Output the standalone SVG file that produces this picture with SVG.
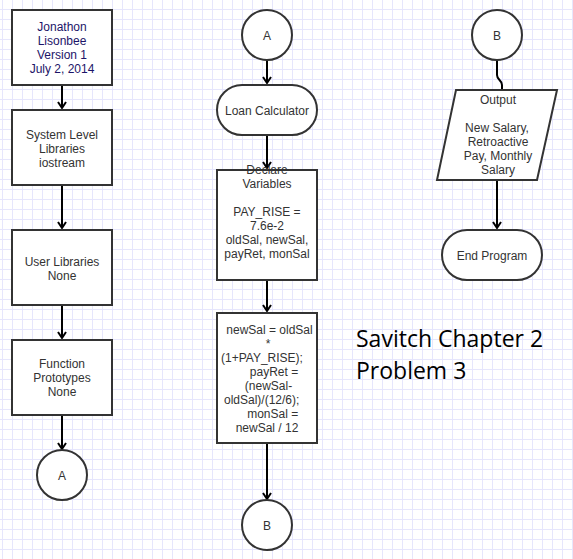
<svg xmlns="http://www.w3.org/2000/svg" width="573" height="559" viewBox="0 0 573 559">
<defs>
<pattern id="grid" width="10" height="10" patternUnits="userSpaceOnUse" x="2" y="9">
<path d="M0,0.5 H10 M0.5,0 V10" fill="none" stroke="#e6e6fc" stroke-width="1"/>
</pattern>
<marker id="arr" markerUnits="userSpaceOnUse" markerWidth="14" markerHeight="14" viewBox="-8 -7 14 14" refX="0" refY="0" orient="auto">
<path d="M-6,-4 L0,0 L-6,4" fill="none" stroke="#000" stroke-width="2"/>
</marker>
</defs>
<style>
.box{fill:#fff;stroke:#333;stroke-width:2}
.t{font-family:"Liberation Sans",Arial,sans-serif;font-size:12px;fill:#333;text-anchor:middle}
.t1{fill:#1c1468}
.conn path{fill:none;stroke:#000;stroke-width:2;marker-end:url(#arr)}
.title{font-family:"Open Sans","Noto Sans",sans-serif;font-size:23px;fill:#000}
</style>
<rect width="573" height="559" fill="#fff"/>
<rect width="573" height="559" fill="url(#grid)"/>

<g class="conn" id="connectors">
<path d="M62,85 V108"/>
<path d="M62,185 V228"/>
<path d="M62,305 V338"/>
<path d="M62,415 V449"/>
<path d="M267,60 V83"/>
<path d="M267,135 V168"/>
<path d="M267,280 V311"/>
<path d="M267,443 V499"/>
<path d="M497,60 V75 C497,80 502,80 502,85 V96"/>
<path d="M497,180 V228"/>
</g>

<g id="author">
<rect class="box" x="12" y="10" width="100" height="75"/>
<text class="t t1" x="62" y="31">Jonathon</text>
<text class="t t1" x="62" y="45">Lisonbee</text>
<text class="t t1" x="62" y="59">Version 1</text>
<text class="t t1" x="62" y="73">July 2, 2014</text>
</g>
<g id="syslibs">
<rect class="box" x="12" y="110" width="100" height="75"/>
<text class="t" x="62" y="138.5">System Level</text>
<text class="t" x="62" y="152.5">Libraries</text>
<text class="t" x="62" y="166.5">iostream</text>
</g>
<g id="userlibs">
<rect class="box" x="12" y="230" width="100" height="75"/>
<text class="t" x="62" y="265.5">User Libraries</text>
<text class="t" x="62" y="279.5">None</text>
</g>
<g id="protos">
<rect class="box" x="12" y="340" width="100" height="75"/>
<text class="t" x="62" y="368">Function</text>
<text class="t" x="62" y="382">Prototypes</text>
<text class="t" x="62" y="396">None</text>
</g>
<g id="connA1">
<circle class="box" cx="62" cy="475" r="25"/>
<text class="t" x="62" y="479.5">A</text>
</g>

<g id="connA2">
<circle class="box" cx="267" cy="35" r="25"/>
<text class="t" x="267" y="39.5">A</text>
</g>
<g id="loancalc">
<rect class="box" x="217" y="85" width="100" height="50" rx="25" ry="25"/>
<text class="t" x="267" y="114.5">Loan Calculator</text>
</g>
<g id="declare">
<rect class="box" x="217" y="170" width="100" height="110"/>
<text class="t" x="267" y="173.5">Declare</text>
<text class="t" x="267" y="187.5">Variables</text>
<text class="t" x="267" y="215.5">PAY_RISE =</text>
<text class="t" x="267" y="229.5">7.6e-2</text>
<text class="t" x="267" y="243.5">oldSal, newSal,</text>
<text class="t" x="267" y="257.5">payRet, monSal</text>
</g>
<g id="compute">
<rect class="box" x="217" y="313" width="100" height="130"/>
<text class="t" x="269.5" y="334">newSal = oldSal</text>
<text class="t" x="268" y="348">*</text>
<text class="t" x="262" y="362">(1+PAY_RISE);</text>
<text class="t" x="274" y="376">payRet =</text>
<text class="t" x="268.5" y="390">(newSal-</text>
<text class="t" x="261.7" y="404">oldSal)/(12/6);</text>
<text class="t" x="272.7" y="418">monSal =</text>
<text class="t" x="267" y="432">newSal / 12</text>
</g>
<g id="connB1">
<circle class="box" cx="267" cy="525" r="25"/>
<text class="t" x="267" y="529.5">B</text>
</g>

<g id="connB2">
<circle class="box" cx="497" cy="35" r="25"/>
<text class="t" x="497" y="39.5">B</text>
</g>
<g id="output">
<polygon class="box" points="456,90 557,90 537,180 437,180"/>
<text class="t" x="498" y="104">Output</text>
<text class="t" x="497" y="132">New Salary,</text>
<text class="t" x="498" y="146">Retroactive</text>
<text class="t" x="498" y="160">Pay, Monthly</text>
<text class="t" x="498" y="174">Salary</text>
</g>
<g id="endprog">
<rect class="box" x="442" y="230" width="100" height="50" rx="25" ry="25"/>
<text class="t" x="492" y="259.5">End Program</text>
</g>

<g id="title">
<text class="title" x="356" y="347">Savitch Chapter 2</text>
<text class="title" x="356" y="379">Problem 3</text>
</g>
</svg>
